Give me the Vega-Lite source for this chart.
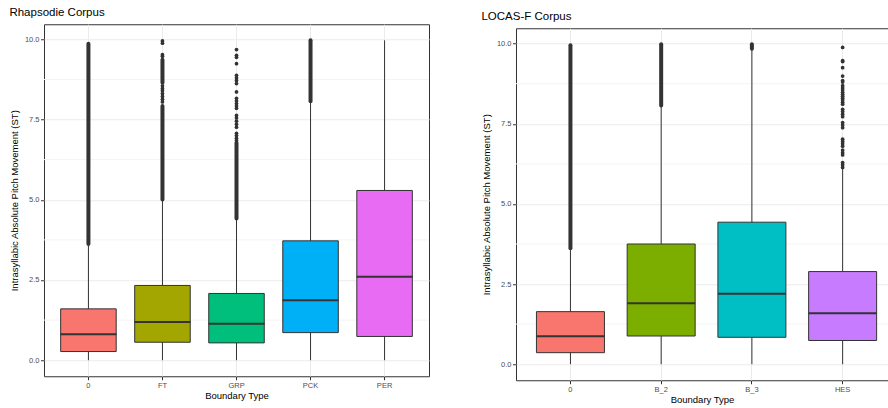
{
  "$schema": "https://vega.github.io/schema/vega-lite/v6.json",
  "background": "white",
  "padding": {"left": 8, "top": 6, "right": 0, "bottom": 0},
  "spacing": 50,
  "columns": 2,
  "center": true,
  "resolve": {"scale": {"color": "independent", "x": "independent", "y": "independent"}},
  "config": {
    "font": "Liberation Sans",
    "view": {"stroke": "#333333", "strokeWidth": 1, "fill": "white"},
    "axis": {"domain": false, "tickColor": "#333333", "tickSize": 3.5, "tickWidth": 1, "labelColor": "#4D4D4D", "labelFontSize": 7.5, "labelPadding": 1.5, "titleFontSize": 9.5, "titleFontWeight": "normal", "titleColor": "#000000", "gridColor": "#EBEBEB", "gridWidth": 1},
    "axisY": {"titlePadding": 5},
    "axisX": {"titlePadding": 2},
    "title": {"fontSize": 11.5, "fontWeight": "normal", "color": "#000000", "anchor": "start", "offset": 6}
  },
  "datasets": {
    "minor": [{"m": 1.25}, {"m": 3.75}, {"m": 6.25}, {"m": 8.75}],
    "rhap_box": [
      {"cat": "0", "lo": 0, "q1": 0.27, "med": 0.81, "q3": 1.60, "hi": 3.56},
      {"cat": "FT", "lo": 0, "q1": 0.56, "med": 1.19, "q3": 2.33, "hi": 4.97},
      {"cat": "GRP", "lo": 0, "q1": 0.54, "med": 1.14, "q3": 2.08, "hi": 4.38},
      {"cat": "PCK", "lo": 0, "q1": 0.86, "med": 1.87, "q3": 3.72, "hi": 8.03},
      {"cat": "PER", "lo": 0, "q1": 0.74, "med": 2.60, "q3": 5.29, "hi": 9.97}
    ],
    "rhap_runs": [
      {"cat": "0", "olo": 3.62, "ohi": 9.86},
      {"cat": "FT", "olo": 5.01, "ohi": 7.92},
      {"cat": "FT", "olo": 8.65, "ohi": 9.36},
      {"cat": "GRP", "olo": 4.42, "ohi": 6.78},
      {"cat": "PCK", "olo": 8.07, "ohi": 9.97}
    ],
    "rhap_pts": [
      {"cat": "FT", "v": 9.95}, {"cat": "FT", "v": 9.88}, {"cat": "FT", "v": 9.52}, {"cat": "FT", "v": 9.47},
      {"cat": "FT", "v": 8.55}, {"cat": "FT", "v": 8.47}, {"cat": "FT", "v": 8.40}, {"cat": "FT", "v": 8.31},
      {"cat": "FT", "v": 8.22}, {"cat": "FT", "v": 8.13}, {"cat": "FT", "v": 8.05},
      {"cat": "GRP", "v": 9.68}, {"cat": "GRP", "v": 9.50}, {"cat": "GRP", "v": 9.44}, {"cat": "GRP", "v": 9.24},
      {"cat": "GRP", "v": 8.88}, {"cat": "GRP", "v": 8.80}, {"cat": "GRP", "v": 8.72}, {"cat": "GRP", "v": 8.62},
      {"cat": "GRP", "v": 8.36}, {"cat": "GRP", "v": 8.16}, {"cat": "GRP", "v": 8.08}, {"cat": "GRP", "v": 8.00},
      {"cat": "GRP", "v": 7.92}, {"cat": "GRP", "v": 7.85}, {"cat": "GRP", "v": 7.63}, {"cat": "GRP", "v": 7.55},
      {"cat": "GRP", "v": 7.45}, {"cat": "GRP", "v": 7.35}, {"cat": "GRP", "v": 7.26}, {"cat": "GRP", "v": 7.07},
      {"cat": "GRP", "v": 7.00}, {"cat": "GRP", "v": 6.92}, {"cat": "GRP", "v": 6.85}
    ],
    "locas_box": [
      {"cat": "0", "lo": 0, "q1": 0.36, "med": 0.87, "q3": 1.64, "hi": 3.56},
      {"cat": "B_2", "lo": 0, "q1": 0.88, "med": 1.90, "q3": 3.75, "hi": 8.03},
      {"cat": "B_3", "lo": 0, "q1": 0.84, "med": 2.20, "q3": 4.43, "hi": 9.80},
      {"cat": "HES", "lo": 0, "q1": 0.74, "med": 1.59, "q3": 2.89, "hi": 6.12}
    ],
    "locas_runs": [
      {"cat": "0", "olo": 3.62, "ohi": 9.95},
      {"cat": "B_2", "olo": 8.07, "ohi": 9.98},
      {"cat": "B_3", "olo": 9.84, "ohi": 9.98}
    ],
    "locas_pts": [
      {"cat": "HES", "v": 9.88}, {"cat": "HES", "v": 9.47}, {"cat": "HES", "v": 9.44}, {"cat": "HES", "v": 9.25},
      {"cat": "HES", "v": 8.99}, {"cat": "HES", "v": 8.85}, {"cat": "HES", "v": 8.80}, {"cat": "HES", "v": 8.69},
      {"cat": "HES", "v": 8.62}, {"cat": "HES", "v": 8.55}, {"cat": "HES", "v": 8.48}, {"cat": "HES", "v": 8.42},
      {"cat": "HES", "v": 8.36}, {"cat": "HES", "v": 8.30}, {"cat": "HES", "v": 8.24}, {"cat": "HES", "v": 8.17},
      {"cat": "HES", "v": 8.11}, {"cat": "HES", "v": 7.95}, {"cat": "HES", "v": 7.88}, {"cat": "HES", "v": 7.80},
      {"cat": "HES", "v": 7.72}, {"cat": "HES", "v": 7.54}, {"cat": "HES", "v": 7.46}, {"cat": "HES", "v": 7.38},
      {"cat": "HES", "v": 7.02}, {"cat": "HES", "v": 6.95}, {"cat": "HES", "v": 6.88}, {"cat": "HES", "v": 6.80},
      {"cat": "HES", "v": 6.68}, {"cat": "HES", "v": 6.60}, {"cat": "HES", "v": 6.53}, {"cat": "HES", "v": 6.29},
      {"cat": "HES", "v": 6.22}, {"cat": "HES", "v": 6.14}
    ]
  },
  "concat": [
    {
      "width": 385,
      "height": 352,
      "title": {"text": "Rhapsodie Corpus", "offset": 6},
      "layer": [
        {
          "data": {"name": "minor"},
          "mark": {"type": "rule", "color": "#F4F4F4", "strokeWidth": 1},
          "encoding": {
            "y": {"field": "m", "type": "quantitative", "title": "Intrasyllabic Absolute Pitch Movement (ST)",
                  "scale": {"domain": [-0.5, 10.47], "nice": false, "zero": false},
                  "axis": {"values": [0, 2.5, 5, 7.5, 10], "format": ".1f", "grid": true}}
          }
        },
        {
          "data": {"name": "rhap_box"},
          "mark": {"type": "rule", "color": "#333333", "strokeWidth": 1},
          "encoding": {
            "x": {"field": "cat", "type": "nominal", "title": ["Boundary Type", ""],
                  "scale": {"type": "band", "domain": ["0", "FT", "GRP", "PCK", "PER"], "paddingInner": 0, "paddingOuter": 0.1},
                  "axis": {"labelAngle": 0, "grid": true, "bandPosition": 0.5, "titleLineHeight": 8}},
            "y": {"field": "lo", "type": "quantitative", "title": "Intrasyllabic Absolute Pitch Movement (ST)"},
            "y2": {"field": "hi"}
          }
        },
        {
          "data": {"name": "rhap_box"},
          "mark": {"type": "bar", "stroke": "#333333", "strokeWidth": 1, "width": {"band": 0.75}, "opacity": 1},
          "encoding": {
            "x": {"field": "cat", "type": "nominal", "title": ["Boundary Type", ""]},
            "y": {"field": "q1", "type": "quantitative", "title": "Intrasyllabic Absolute Pitch Movement (ST)"},
            "y2": {"field": "q3"},
            "color": {"field": "cat", "type": "nominal", "legend": null,
                      "scale": {"domain": ["0", "FT", "GRP", "PCK", "PER"], "range": ["#F8766D", "#A3A500", "#00BF7D", "#00B0F6", "#E76BF3"]}}
          }
        },
        {
          "data": {"name": "rhap_box"},
          "mark": {"type": "tick", "color": "#333333", "thickness": 2, "size": 56, "opacity": 1},
          "encoding": {
            "x": {"field": "cat", "type": "nominal", "title": ["Boundary Type", ""]},
            "y": {"field": "med", "type": "quantitative", "title": "Intrasyllabic Absolute Pitch Movement (ST)"}
          }
        },
        {
          "data": {"name": "rhap_runs"},
          "mark": {"type": "rule", "color": "#333333", "strokeWidth": 4, "strokeCap": "round"},
          "encoding": {
            "x": {"field": "cat", "type": "nominal", "title": ["Boundary Type", ""]},
            "y": {"field": "olo", "type": "quantitative", "title": "Intrasyllabic Absolute Pitch Movement (ST)"},
            "y2": {"field": "ohi"}
          }
        },
        {
          "data": {"name": "rhap_pts"},
          "mark": {"type": "circle", "color": "#333333", "size": 14, "opacity": 1},
          "encoding": {
            "x": {"field": "cat", "type": "nominal", "title": ["Boundary Type", ""]},
            "y": {"field": "v", "type": "quantitative", "title": "Intrasyllabic Absolute Pitch Movement (ST)"}
          }
        }
      ]
    },
    {
      "width": 372,
      "height": 352,
      "title": {"text": "LOCAS-F Corpus", "offset": 6},
      "layer": [
        {
          "data": {"name": "minor"},
          "mark": {"type": "rule", "color": "#F4F4F4", "strokeWidth": 1},
          "encoding": {
            "y": {"field": "m", "type": "quantitative", "title": "Intrasyllabic Absolute Pitch Movement (ST)",
                  "scale": {"domain": [-0.5, 10.48], "nice": false, "zero": false},
                  "axis": {"values": [0, 2.5, 5, 7.5, 10], "format": ".1f", "grid": true}}
          }
        },
        {
          "data": {"name": "locas_box"},
          "mark": {"type": "rule", "color": "#333333", "strokeWidth": 1},
          "encoding": {
            "x": {"field": "cat", "type": "nominal", "title": "Boundary Type",
                  "scale": {"type": "band", "domain": ["0", "B_2", "B_3", "HES"], "paddingInner": 0, "paddingOuter": 0.05, "align": 1},
                  "axis": {"labelAngle": 0, "grid": true, "bandPosition": 0.5}},
            "y": {"field": "lo", "type": "quantitative", "title": "Intrasyllabic Absolute Pitch Movement (ST)"},
            "y2": {"field": "hi"}
          }
        },
        {
          "data": {"name": "locas_box"},
          "mark": {"type": "bar", "stroke": "#333333", "strokeWidth": 1, "width": 68, "opacity": 1},
          "encoding": {
            "x": {"field": "cat", "type": "nominal", "title": "Boundary Type"},
            "y": {"field": "q1", "type": "quantitative", "title": "Intrasyllabic Absolute Pitch Movement (ST)"},
            "y2": {"field": "q3"},
            "color": {"field": "cat", "type": "nominal", "legend": null,
                      "scale": {"domain": ["0", "B_2", "B_3", "HES"], "range": ["#F8766D", "#7CAE00", "#00BFC4", "#C77CFF"]}}
          }
        },
        {
          "data": {"name": "locas_box"},
          "mark": {"type": "tick", "color": "#333333", "thickness": 2, "size": 68, "opacity": 1},
          "encoding": {
            "x": {"field": "cat", "type": "nominal", "title": "Boundary Type"},
            "y": {"field": "med", "type": "quantitative", "title": "Intrasyllabic Absolute Pitch Movement (ST)"}
          }
        },
        {
          "data": {"name": "locas_runs"},
          "mark": {"type": "rule", "color": "#333333", "strokeWidth": 4, "strokeCap": "round"},
          "encoding": {
            "x": {"field": "cat", "type": "nominal", "title": "Boundary Type"},
            "y": {"field": "olo", "type": "quantitative", "title": "Intrasyllabic Absolute Pitch Movement (ST)"},
            "y2": {"field": "ohi"}
          }
        },
        {
          "data": {"name": "locas_pts"},
          "mark": {"type": "circle", "color": "#333333", "size": 14, "opacity": 1},
          "encoding": {
            "x": {"field": "cat", "type": "nominal", "title": "Boundary Type"},
            "y": {"field": "v", "type": "quantitative", "title": "Intrasyllabic Absolute Pitch Movement (ST)"}
          }
        }
      ]
    }
  ]
}
